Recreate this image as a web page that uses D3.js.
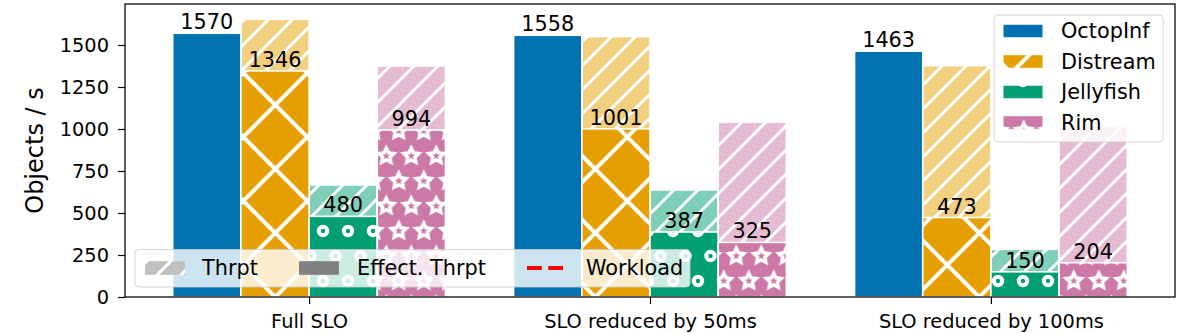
<!DOCTYPE html>
<html>
<head>
<meta charset="utf-8">
<script src="https://cdn.jsdelivr.net/npm/d3@7"></script>
<style>
  body { margin: 0; background: #fff; }
  svg { display: block; font-family: "DejaVu Sans", sans-serif; }
</style>
</head>
<body>
<div id="plot"></div>
<script>
"use strict";

var WIDTH = 1196;
var HEIGHT = 333;
var TICK_FONT = 19.4;
var LABEL_FONT = 20.8;
var YLABEL_FONT = 24;
var BAR_WIDTH = 0.2;
var Y_MAX = 1744;

var margin = {left: 125, right: 21, top: 4, bottom: 36};

// Data
var groups = ["Full SLO", "SLO reduced by 50ms", "SLO reduced by 100ms"];
var systems = ["OctopInf", "Distream", "Jellyfish", "Rim"];
var colors = ["#0072b2", "#e69f00", "#009e73", "#cc79a7"];

// Throughput (hatched, light)
var thrptOctopInf = [1570, 1558, 1463];
var thrptDistream = [1653, 1550, 1377];
var thrptJellyfish = [667, 637, 284];
var thrptRim = [1375, 1040, 1020];

// Effective throughput (labelled)
var effOctopInf = [1570, 1558, 1463];
var effDistream = [1346, 1001, 473];
var effJellyfish = [480, 387, 150];
var effRim = [994, 325, 204];

var yTicks = [0, 250, 500, 750, 1000, 1250, 1500];
var legendLabels = ["Thrpt", "Effect. Thrpt", "Workload"];

var thrptBySystem = [thrptOctopInf, thrptDistream, thrptJellyfish, thrptRim];
var effBySystem = [effOctopInf, effDistream, effJellyfish, effRim];

// Flatten into bar records
var bars = [];
systems.forEach(function (name, s) {
    groups.forEach(function (g, i) {
        bars.push({system: s, group: i, thrpt: thrptBySystem[s][i], eff: effBySystem[s][i]});
    });
});

var svg = d3.select("#plot").append("svg")
    .attr("width", WIDTH)
    .attr("height", HEIGHT);

var scaleX = d3.scaleLinear()
    .domain([-0.54, 2.54])
    .range([margin.left, WIDTH - margin.right]);
var scaleY = d3.scaleLinear()
    .domain([0, Y_MAX])
    .range([HEIGHT - margin.bottom, margin.top]);

var defs = svg.append("defs");

function lighten(color) {
    return d3.interpolateRgb(color, "#ffffff")(0.5);
}

// "//" hatch used for the throughput bars
function addSlash(id, color) {
    var p = defs.append("pattern")
        .attr("id", id)
        .attr("patternUnits", "userSpaceOnUse")
        .attr("width", 24).attr("height", 24);
    p.append("rect").attr("width", 24).attr("height", 24).attr("fill", lighten(color));
    p.append("path")
        .attr("d", "M-6,6L6,-6M0,24L24,0M18,30L30,18")
        .attr("stroke", "#fff").attr("stroke-width", 3);
}

// "x" hatch for Distream
function addCross(id, color) {
    var s = 64;
    var p = defs.append("pattern")
        .attr("id", id)
        .attr("patternUnits", "userSpaceOnUse")
        .attr("x", 275.3).attr("y", 105)
        .attr("width", s).attr("height", s);
    p.append("rect").attr("width", s).attr("height", s).attr("fill", color);
    p.append("path")
        .attr("d", "M-8,-8L72,72M72,-8L-8,72")
        .attr("stroke", "#fff").attr("stroke-width", 4);
}

// "o" hatch for Jellyfish
function addCircles(id, color) {
    var p = defs.append("pattern")
        .attr("id", id)
        .attr("patternUnits", "userSpaceOnUse")
        .attr("x", 323).attr("y", 231)
        .attr("width", 25).attr("height", 50);
    p.append("rect").attr("width", 25).attr("height", 50).attr("fill", color);
    [[0, 0], [25, 0], [0, 50], [25, 50], [12.5, 25]].forEach(function (c) {
        p.append("circle")
            .attr("cx", c[0]).attr("cy", c[1]).attr("r", 4.2)
            .attr("fill", "none").attr("stroke", "#fff").attr("stroke-width", 4);
    });
}

function starPath(cx, cy, R, r) {
    var pts = [];
    for (var k = 0; k < 10; k++) {
        var a = -Math.PI / 2 + k * Math.PI / 5;
        var rad = (k % 2 === 0) ? R : r;
        pts.push([cx + rad * Math.cos(a), cy + rad * Math.sin(a)]);
    }
    return "M" + pts.map(function (p) { return p[0].toFixed(2) + "," + p[1].toFixed(2); }).join("L") + "Z";
}

// "*" hatch for Rim
function addStars(id, color) {
    var p = defs.append("pattern")
        .attr("id", id)
        .attr("patternUnits", "userSpaceOnUse")
        .attr("x", 411.3).attr("y", 155)
        .attr("width", 25).attr("height", 50);
    p.append("rect").attr("width", 25).attr("height", 50).attr("fill", color);
    [[0, 0], [25, 0], [0, 50], [25, 50], [12.5, 25]].forEach(function (c) {
        p.append("path").attr("d", starPath(c[0], c[1] + 1, 11.8, 5.8)).attr("fill", "#fff");
        p.append("path").attr("d", starPath(c[0], c[1] + 1, 4, 1.8)).attr("fill", color);
    });
}

colors.forEach(function (c, s) {
    addSlash("thrpt" + s, c);
});
addSlash("thrptGray", "#808080");
addCross("eff1", colors[1]);
addCircles("eff2", colors[2]);
addStars("eff3", colors[3]);

function effFill(s) {
    return s === 0 ? colors[0] : "url(#eff" + s + ")";
}

function barX(d) {
    return scaleX(d.group + (d.system - 1.5) * BAR_WIDTH - BAR_WIDTH / 2);
}
var barW = scaleX(BAR_WIDTH) - scaleX(0);

var plot = svg.append("g").attr("class", "plot");

// Throughput bars (behind)
plot.selectAll("rect.thrpt").data(bars).enter().append("rect")
    .attr("class", "thrpt")
    .attr("x", barX)
    .attr("width", barW)
    .attr("y", function (d) { return scaleY(d.thrpt); })
    .attr("height", function (d) { return scaleY(0) - scaleY(d.thrpt); })
    .attr("fill", function (d) { return "url(#thrpt" + d.system + ")"; })
    .attr("stroke", "#fff")
    .attr("stroke-width", 1.6);

// Effective throughput bars
plot.selectAll("rect.eff").data(bars).enter().append("rect")
    .attr("class", "eff")
    .attr("x", barX)
    .attr("width", barW)
    .attr("y", function (d) { return scaleY(d.eff); })
    .attr("height", function (d) { return scaleY(0) - scaleY(d.eff); })
    .attr("fill", function (d) { return effFill(d.system); })
    .attr("stroke", "#fff")
    .attr("stroke-width", 1.6);

// Value labels
plot.selectAll("text.value").data(bars).enter().append("text")
    .attr("class", "value")
    .attr("x", function (d) { return barX(d) + barW / 2; })
    .attr("y", function (d) { return scaleY(d.eff) - 4; })
    .attr("text-anchor", "middle")
    .style("font-size", LABEL_FONT + "px")
    .text(function (d) { return d.eff; });

// Axes
var yAxis = svg.append("g")
    .attr("transform", "translate(" + margin.left + ",0)")
    .call(d3.axisLeft(scaleY).tickValues(yTicks).tickSize(7).tickPadding(9)
        .tickFormat(d3.format("d")));
var xAxis = svg.append("g")
    .attr("transform", "translate(0," + (HEIGHT - margin.bottom) + ")")
    .call(d3.axisBottom(scaleX).tickValues([0, 1, 2]).tickSize(7).tickPadding(10.7)
        .tickFormat(function (i) { return groups[i]; }));

[yAxis, xAxis].forEach(function (a) {
    a.select(".domain").remove();
    a.attr("font-family", null).attr("font-size", null);
    a.selectAll("text").style("font-size", TICK_FONT + "px").attr("fill", "#000");
    a.selectAll("line").attr("stroke", "#000").attr("stroke-width", 1.2);
});

svg.append("rect")
    .attr("x", margin.left)
    .attr("y", margin.top)
    .attr("width", WIDTH - margin.left - margin.right)
    .attr("height", HEIGHT - margin.top - margin.bottom)
    .attr("fill", "none")
    .attr("stroke", "#000")
    .attr("stroke-width", 1.25);

svg.append("text")
    .attr("transform", "translate(43," + ((margin.top + HEIGHT - margin.bottom) / 2) + ") rotate(-90)")
    .attr("text-anchor", "middle")
    .style("font-size", YLABEL_FONT + "px")
    .text("Objects / s");

// Legend of systems (top right)
var leg1 = svg.append("g").attr("class", "legend");
leg1.append("rect")
    .attr("x", 994).attr("y", 15).attr("width", 169).attr("height", 127).attr("rx", 4)
    .attr("fill", "#fff").attr("fill-opacity", 0.8)
    .attr("stroke", "#ccc").attr("stroke-opacity", 0.8);
systems.forEach(function (name, s) {
    var cy = 31 + 30.5 * s;
    leg1.append("rect")
        .attr("x", 1003).attr("y", cy - 6.8).attr("width", 40).attr("height", 13.6)
        .attr("fill", effFill(s)).attr("stroke", "#fff").attr("stroke-width", 1);
    leg1.append("text")
        .attr("x", 1061).attr("y", cy).attr("dy", "0.35em")
        .style("font-size", LABEL_FONT + "px")
        .text(name);
});

// Legend of measures (bottom left)
var leg2 = svg.append("g").attr("class", "legend");
var cy2 = 268;
leg2.append("rect")
    .attr("x", 135).attr("y", 249.5).attr("width", 555).attr("height", 37.5).attr("rx", 4)
    .attr("fill", "#fff").attr("fill-opacity", 0.8)
    .attr("stroke", "#ccc").attr("stroke-opacity", 0.8);
leg2.append("rect")
    .attr("x", 145).attr("y", cy2 - 6.8).attr("width", 40).attr("height", 13.6)
    .attr("fill", "url(#thrptGray)");
leg2.append("rect")
    .attr("x", 299).attr("y", cy2 - 6.8).attr("width", 40).attr("height", 13.6)
    .attr("fill", "#808080");
leg2.append("line")
    .attr("x1", 527).attr("x2", 563).attr("y1", cy2).attr("y2", cy2)
    .attr("stroke", "#ff0000").attr("stroke-width", 4)
    .attr("stroke-dasharray", "14.8,6.4");
[202, 357, 586].forEach(function (x, i) {
    leg2.append("text")
        .attr("x", x).attr("y", cy2).attr("dy", "0.35em")
        .style("font-size", LABEL_FONT + "px")
        .text(legendLabels[i]);
});
</script>
</body>
</html>
